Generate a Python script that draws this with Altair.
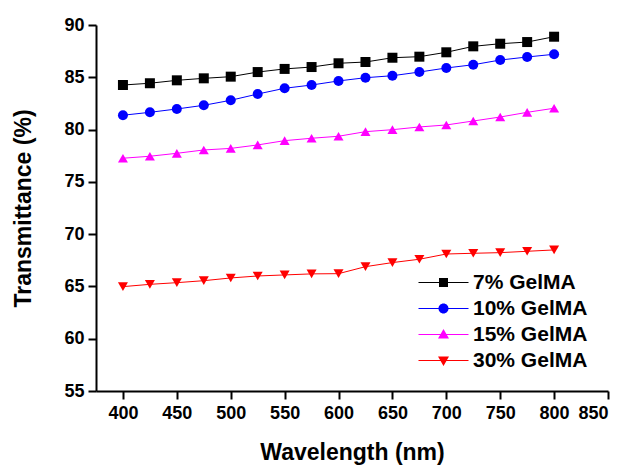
import altair as alt
import pandas as pd

wavelength = [400, 425, 450, 475, 500, 525, 550, 575, 600, 625, 650, 675, 700, 725, 750, 775, 800]
gel7 = [84.26, 84.43, 84.71, 84.90, 85.06, 85.50, 85.80, 85.98, 86.34, 86.46, 86.87, 86.97, 87.39, 87.96, 88.21, 88.37, 88.88]
gel10 = [81.37, 81.65, 81.97, 82.32, 82.80, 83.40, 83.95, 84.26, 84.65, 84.96, 85.15, 85.50, 85.89, 86.20, 86.65, 86.94, 87.20]
gel15 = [77.26, 77.45, 77.73, 78.05, 78.20, 78.53, 78.94, 79.17, 79.36, 79.80, 79.99, 80.25, 80.44, 80.82, 81.20, 81.65, 82.04]
gel30 = [64.98, 65.20, 65.36, 65.55, 65.81, 66.00, 66.10, 66.20, 66.22, 66.89, 67.28, 67.60, 68.10, 68.17, 68.23, 68.36, 68.49]

series_names = ["7% GelMA", "10% GelMA", "15% GelMA", "30% GelMA"]
series_values = [gel7, gel10, gel15, gel30]
colors = ["#000000", "#0000FF", "#FF00FF", "#FF0000"]
shapes = ["square", "circle", "triangle-up", "triangle-down"]
legend_paths = [
    "M-5,-0.1H5V0.1H-5Z M-0.9,-0.9H0.9V0.9H-0.9Z",
    "M-5,-0.1H5V0.1H-5Z M-1,0A1,1 0 1,1 1,0A1,1 0 1,1 -1,0Z",
    "M-5,-0.1H5V0.1H-5Z M0,-1.1L1.1,0.8H-1.1Z",
    "M-5,-0.1H5V0.1H-5Z M0,1.1L-1.1,-0.8H1.1Z",
]

x_ticks = list(range(400, 851, 25))
y_ticks = [55 + 2.5 * i for i in range(15)]

rows = []
for name, vals in zip(series_names, series_values):
    for w, v in zip(wavelength, vals):
        rows.append({"wavelength": w, "value": v, "series": name})
df = pd.DataFrame(rows)

FONT = "Liberation Sans"

x_enc = alt.X(
    "wavelength:Q",
    scale=alt.Scale(domain=[375, 850], nice=False, zero=False),
    axis=alt.Axis(
        title="Wavelength (nm)",
        values=x_ticks,
        labelExpr="datum.value % 50 === 0 ? datum.label : ''",
        tickSize={"condition": {"test": "datum.value % 50 === 0", "value": 8}, "value": 4},
        labelPadding=5,
        titlePadding=19,
        grid=False,
    ),
)
y_enc = alt.Y(
    "value:Q",
    scale=alt.Scale(domain=[55, 90], nice=False, zero=False),
    axis=alt.Axis(
        title="Transmittance (%)",
        values=y_ticks,
        labelExpr="datum.value % 5 === 0 ? datum.label : ''",
        tickSize={"condition": {"test": "datum.value % 5 === 0", "value": 8}, "value": 4},
        labelPadding=4,
        titlePadding=28,
        grid=False,
    ),
)

color_scale = alt.Scale(domain=series_names, range=colors)

base = alt.Chart(df).encode(
    x=x_enc,
    y=y_enc,
    color=alt.Color("series:N", scale=color_scale, legend=None),
)

lines = base.mark_line(strokeWidth=1).encode(detail="series:N")
points = base.mark_point(filled=True, size=100, opacity=1).encode(
    shape=alt.Shape("series:N", scale=alt.Scale(domain=series_names, range=shapes), legend=None)
)

legend_layer = alt.Chart(df).transform_filter("false").mark_point(
    filled=True, size=100, opacity=1
).encode(
    x=alt.X("wavelength:Q"),
    y=alt.Y("value:Q"),
    fill=alt.Fill(
        "series:N",
        scale=alt.Scale(domain=series_names, range=colors),
        legend=alt.Legend(title=None, orient="none", legendX=337, legendY=247),
    ),
    shape=alt.Shape(
        "series:N",
        scale=alt.Scale(domain=series_names, range=legend_paths),
        legend=alt.Legend(title=None, orient="none", legendX=337, legendY=247),
    ),
)

chart = (
    alt.layer(lines, points, legend_layer)
    .resolve_scale(shape="independent", fill="independent")
    .properties(
        width=512,
        height=366,
        autosize=alt.AutoSizeParams(type="none"),
        padding={"left": 88, "top": 17, "right": 12, "bottom": 74},
    )
    .configure_view(stroke=None)
    .configure_axis(
        labelFont=FONT,
        titleFont=FONT,
        labelFontSize=18,
        titleFontSize=23,
        labelFontWeight="bold",
        titleFontWeight="bold",
        labelColor="#000000",
        titleColor="#000000",
        domainColor="#000000",
        tickColor="#000000",
        domainWidth=2,
        tickWidth=2,
    )
    .configure_legend(
        labelFont=FONT,
        labelFontSize=21,
        labelFontWeight="bold",
        labelColor="#000000",
        symbolSize=100,
        symbolStrokeWidth=0,
        labelOffset=19,
        rowPadding=4,
        padding=0,
    )
)

chart.save("out.html", embed_options={"renderer": "svg", "actions": False})
